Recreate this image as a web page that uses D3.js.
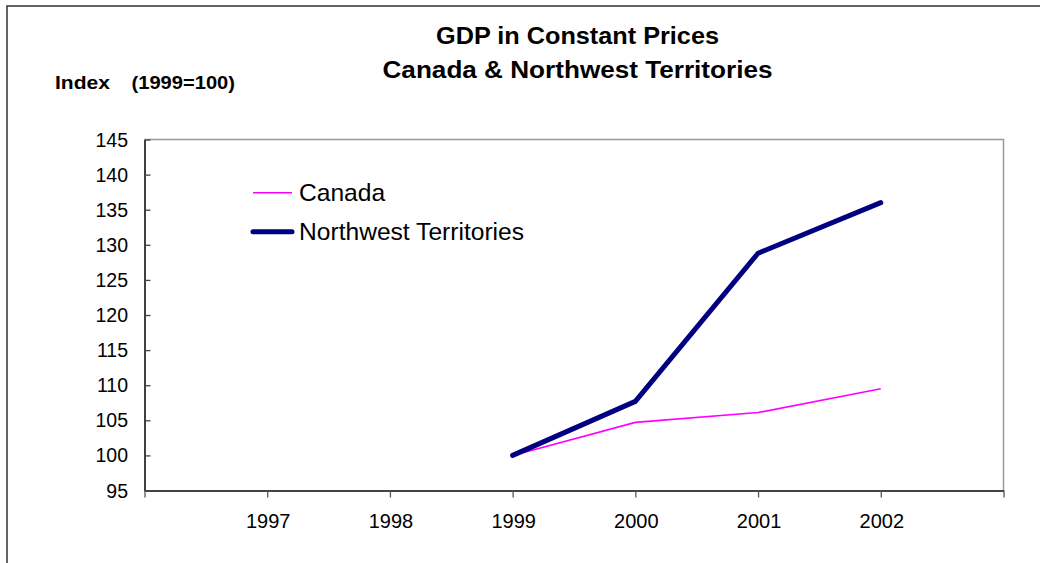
<!DOCTYPE html>
<html>
<head>
<meta charset="utf-8">
<script src="https://cdn.jsdelivr.net/npm/d3@7"></script>
<style>
  html, body { margin: 0; padding: 0; background: #fff; }
  svg { display: block; }
  text { font-family: Arial, "Liberation Sans", sans-serif; fill: #000; }
</style>
</head>
<body>
<script>
const years = [1999, 2000, 2001, 2002];
const canada = [100, 104.7, 106.1, 109.5];
const nwt = [100, 107.7, 128.8, 136.0];
const xTickYears = [1997, 1998, 1999, 2000, 2001, 2002];
const yTicks = [95, 100, 105, 110, 115, 120, 125, 130, 135, 140, 145];
const titleLines = ["GDP in Constant Prices", "Canada & Northwest Territories"];
const seriesNames = ["Canada", "Northwest Territories"];

(function () {
const W = 1040, H = 563;
const svg = d3.select("body").append("svg").attr("width", W).attr("height", H);

// outer frame
svg.append("rect").attr("x", 7).attr("y", 6).attr("width", 1100).attr("height", 700)
  .attr("fill", "#fff").attr("stroke", "#333").attr("stroke-width", 1.5);

const pL = 144.5, pR = 1003.5, pT = 139.5, pB = 490.5;
const x = d3.scaleLinear().domain([1996, 2003]).range([pL, pR]);
const y = d3.scaleLinear().domain([95, 145]).range([pB, pT]);

// plot frame top/right
svg.append("path")
  .attr("d", `M${pL},${pT}H${pR}V${pB}`)
  .attr("fill", "none").attr("stroke", "#999").attr("stroke-width", 1.5);

// y axis (ticks inside)
const yAxis = d3.axisRight(y).tickValues(yTicks).tickSize(6).tickSizeOuter(0).tickFormat("");
const gy = svg.append("g").attr("transform", `translate(${pL},0)`).call(yAxis);
gy.select(".domain").attr("stroke", "#000").attr("stroke-width", 1.5);
gy.selectAll(".tick line").attr("stroke", "#444").attr("stroke-width", 1.3);

svg.append("g").selectAll("text").data(yTicks).join("text")
  .attr("x", 128).attr("y", d => y(d)).attr("dy", "0.36em")
  .attr("text-anchor", "end").attr("font-size", 19.5).text(d => d);

// x axis (ticks outside)
const xTickPos = [1996].concat(xTickYears, [2003]);
const xAxis = d3.axisBottom(x).tickValues(xTickPos).tickSize(7).tickSizeOuter(0).tickFormat("");
const gx = svg.append("g").attr("transform", `translate(0,${pB})`).call(xAxis);
gx.select(".domain").attr("stroke", "#444").attr("stroke-width", 2);
gx.selectAll(".tick line").attr("stroke", "#555").attr("stroke-width", 1.3);

svg.append("g").selectAll("text").data(xTickYears).join("text")
  .attr("x", d => x(d) + 1).attr("y", 528)
  .attr("text-anchor", "middle").attr("font-size", 20).text(d => d);

// lines
const line = d3.line().x((d, i) => x(years[i])).y(d => y(d));
svg.append("path").datum(canada).attr("d", line)
  .attr("fill", "none").attr("stroke", "#FF00FF").attr("stroke-width", 1.6);
svg.append("path").datum(nwt).attr("d", line)
  .attr("fill", "none").attr("stroke", "#000080").attr("stroke-width", 5)
  .attr("stroke-linecap", "round").attr("stroke-linejoin", "round");

// legend
const lg = svg.append("g");
const legendY = [192.7, 231.7];
const legendColors = ["#FF00FF", "#000080"];
const legendWidths = [1.6, 5];
seriesNames.forEach((name, i) => {
  lg.append("line").attr("x1", 253).attr("x2", 292).attr("y1", legendY[i]).attr("y2", legendY[i])
    .attr("stroke", legendColors[i]).attr("stroke-width", legendWidths[i])
    .attr("stroke-linecap", i === 1 ? "round" : "butt");
  lg.append("text").attr("x", 299).attr("y", legendY[i] + 8.3)
    .attr("font-size", 24.6).text(name);
});

// title
const titleBase = [44, 78];
const titleW = [283, 390];
titleLines.forEach((t, i) => {
  svg.append("text").attr("x", 577.5).attr("y", titleBase[i]).attr("text-anchor", "middle")
    .attr("font-size", 23).attr("font-weight", "bold")
    .attr("textLength", titleW[i]).attr("lengthAdjust", "spacingAndGlyphs").text(t);
});

// y axis label
svg.append("text").attr("x", 55).attr("y", 89).attr("font-size", 19).attr("font-weight", "bold")
  .attr("textLength", 55).attr("lengthAdjust", "spacingAndGlyphs").text("Index");
svg.append("text").attr("x", 131.5).attr("y", 89).attr("font-size", 19).attr("font-weight", "bold")
  .attr("textLength", 103.5).attr("lengthAdjust", "spacingAndGlyphs").text("(1999=100)");
})();
</script>
</body>
</html>
